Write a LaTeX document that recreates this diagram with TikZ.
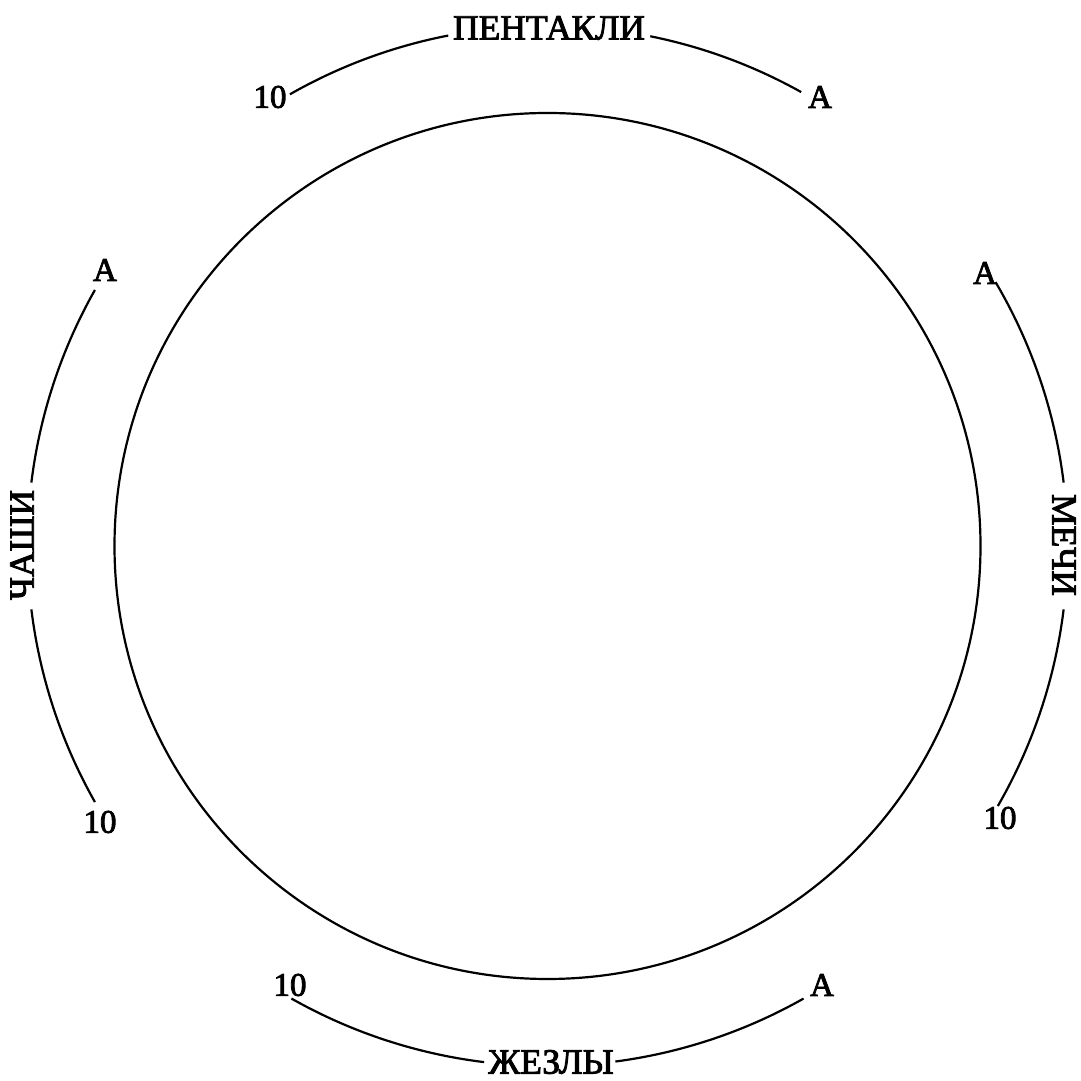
\documentclass[tikz,border=0pt]{standalone}
\usepackage{fontspec}
\setmainfont{Liberation Serif}
\newfontfamily\heavyserif{Liberation Serif}[FakeBold=2.5]
\begin{document}
\begin{tikzpicture}[x=1pt,y=1pt,
  line/.style={line width=2.2pt},
  suit/.style={font=\heavyserif\fontsize{35.5}{38}\selectfont, inner sep=0pt},
  card/.style={font=\heavyserif\fontsize{33}{36}\selectfont, inner sep=0pt}]
\useasboundingbox (0,0) rectangle (1080,1081);
\coordinate (C) at (547.5,535);
% central circle
\draw[line] (C) circle[radius=433];
% suit names
\node[suit] (pent) at (549,1053) {ПЕНТАКЛИ};
\node[suit] (zhez) at (551,19) {ЖЕЗЛЫ};
\node[suit, rotate=90] (chash) at (22,536) {ЧАШИ};
\node[suit, rotate=-90] (mech) at (1064,536) {МЕЧИ};
% card ends
\node[card] (t10) at (270,984) {10};
\node[card] (tA) at (820,984) {A};
\node[card] (lA) at (105,811) {A};
\node[card] (l10) at (100,259) {10};
\node[card] (rA) at (985,808) {A};
\node[card] (r10) at (1000,263) {10};
\node[card] (b10) at (290,96) {10};
\node[card] (bA) at (822,96) {A};
% outer arcs
\begin{scope}[shift={(C)}]
\draw[line] (60.8:520) arc[start angle=60.8, end angle=78.6, radius=520];
\draw[line] (101:520) arc[start angle=101, end angle=119.7, radius=520];
\draw[line] (150.5:520) arc[start angle=150.5, end angle=173, radius=520];
\draw[line] (187:520) arc[start angle=187, end angle=209.5, radius=520];
\draw[line] (240.5:520) arc[start angle=240.5, end angle=263, radius=520];
\draw[line] (277.5:520) arc[start angle=277.5, end angle=299.5, radius=520];
\draw[line] (-30:520) arc[start angle=-30, end angle=-7, radius=520];
\draw[line] (7:520) arc[start angle=7, end angle=30.5, radius=520];
\end{scope}
\end{tikzpicture}
\end{document}
